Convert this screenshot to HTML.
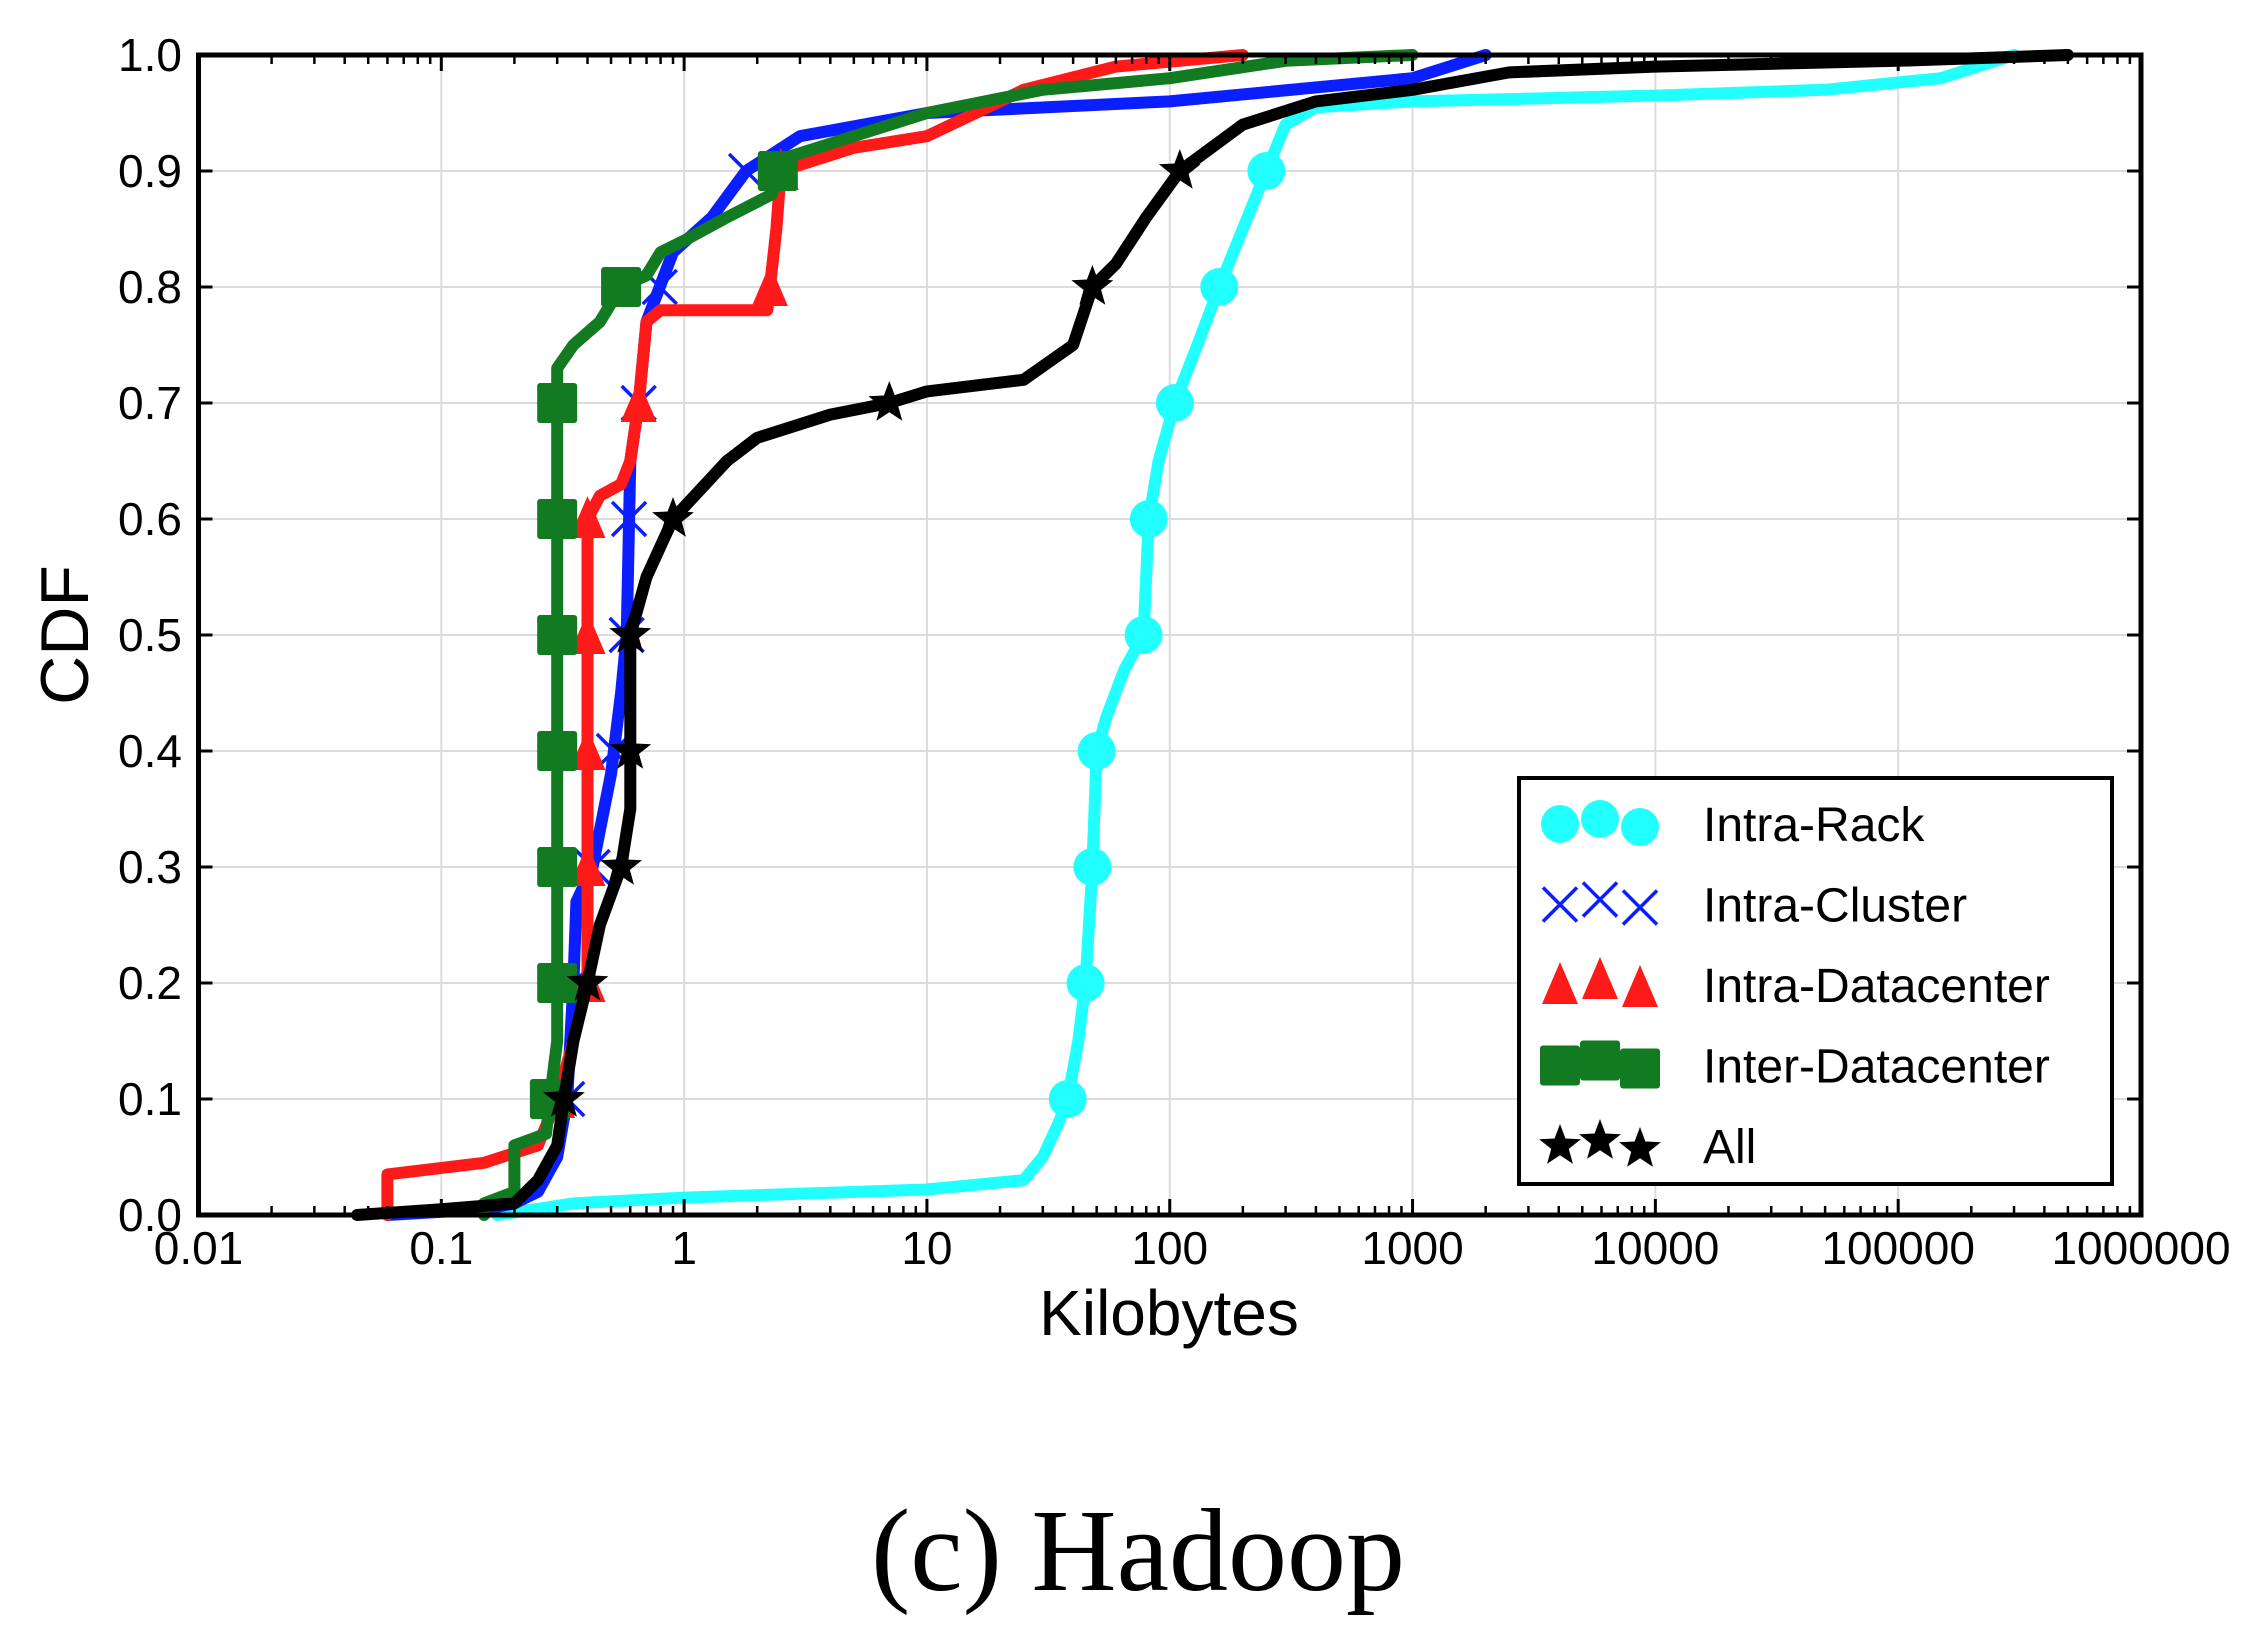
<!DOCTYPE html>
<html><head><meta charset="utf-8">
<style>
html,body{margin:0;padding:0;background:#fff;}
svg{display:block;}
text{font-family:"Liberation Sans","DejaVu Sans",sans-serif;}
</style></head>
<body>
<svg id="chart" width="2258" height="1630" viewBox="0 0 2258 1630" xmlns="http://www.w3.org/2000/svg">
<g id="grid"></g>
<g id="series"></g>
<g id="axes"></g>
<g id="legend"></g>
<text x="1169" y="1335" font-size="64" text-anchor="middle">Kilobytes</text>
<text x="0" y="0" font-size="68" text-anchor="middle" transform="translate(88,635) rotate(-90)">CDF</text>
<text x="1138" y="1590" font-size="118" text-anchor="middle" style="font-family:'Liberation Serif',serif">(c) Hadoop</text>
</svg>
<script>
const xTicks = [0.01,0.1,1,10,100,1000,10000,100000,1000000];
const xTickLabels = ["0.01","0.1","1","10","100","1000","10000","100000","1000000"];
const yTicks = [0,0.1,0.2,0.3,0.4,0.5,0.6,0.7,0.8,0.9,1.0];
const yTickLabels = ["0.0","0.1","0.2","0.3","0.4","0.5","0.6","0.7","0.8","0.9","1.0"];
const seriesNames = ["Intra-Rack","Intra-Cluster","Intra-Datacenter","Inter-Datacenter","All"];
const markerLevels = [0.1,0.2,0.3,0.4,0.5,0.6,0.7,0.8,0.9];

const rackX = [0.17,0.35,1,10,25,30,35,38,42,45,48,50,55,65,78,82,90,105,130,160,200,250,300,400,1000,10000,50000,150000,300000];
const rackY = [0,0.01,0.015,0.022,0.03,0.05,0.08,0.1,0.15,0.2,0.3,0.4,0.43,0.47,0.5,0.6,0.65,0.7,0.75,0.8,0.85,0.9,0.94,0.955,0.96,0.965,0.97,0.98,1.0];

const clusterX = [0.06,0.15,0.2,0.25,0.3,0.33,0.35,0.36,0.42,0.5,0.55,0.58,0.6,0.65,0.7,0.9,1.3,1.8,3,10,100,1000,2000];
const clusterY = [0,0.005,0.01,0.02,0.05,0.1,0.2,0.27,0.3,0.38,0.45,0.5,0.65,0.7,0.77,0.83,0.86,0.9,0.93,0.95,0.96,0.98,1.0];

const dcX = [0.06,0.06,0.15,0.25,0.3,0.35,0.4,0.4,0.4,0.45,0.55,0.6,0.65,0.7,0.8,2.2,2.4,2.5,5,10,20,25,60,200];
const dcY = [0,0.035,0.045,0.06,0.1,0.15,0.2,0.3,0.6,0.62,0.63,0.65,0.7,0.77,0.78,0.78,0.85,0.9,0.92,0.93,0.96,0.97,0.99,1.0];

const interX = [0.15,0.15,0.2,0.2,0.27,0.28,0.3,0.3,0.35,0.45,0.55,0.7,0.8,1.0,1.5,2.3,2.5,5,10,30,100,300,1000];
const interY = [0,0.01,0.02,0.06,0.07,0.1,0.15,0.73,0.75,0.77,0.8,0.81,0.83,0.84,0.86,0.88,0.91,0.93,0.95,0.97,0.98,0.995,1.0];

const allX = [0.045,0.1,0.2,0.25,0.3,0.32,0.35,0.4,0.45,0.55,0.6,0.6,0.7,0.9,1.5,2,4,7,10,25,40,48,60,80,110,200,400,1000,2500,10000,100000,500000];
const allY = [0,0.005,0.01,0.03,0.06,0.1,0.15,0.2,0.25,0.3,0.35,0.5,0.55,0.6,0.65,0.67,0.69,0.7,0.71,0.72,0.75,0.8,0.82,0.86,0.9,0.94,0.96,0.97,0.985,0.99,0.995,1.0];

const NS="http://www.w3.org/2000/svg";
const L=198.5,R=2141,T=55,B=1215;
function xs(v){return L+(Math.log10(v)+2)/8*(R-L);}
function ys(v){return B-v*(B-T);}
function mk(tag,attrs,parent){const e=document.createElementNS(NS,tag);for(const k in attrs)e.setAttribute(k,attrs[k]);parent.appendChild(e);return e;}
const grid=document.getElementById('grid'),axes=document.getElementById('axes'),ser=document.getElementById('series'),leg=document.getElementById('legend');

xTicks.forEach((t,i)=>{
  const g=mk('line',{x1:xs(t),x2:xs(t),y1:T,y2:B,stroke:'#dcdcdc','stroke-width':2},grid);
  
  
  const lb=mk('text',{x:xs(t),y:1264,'font-size':46,'text-anchor':'middle'},axes);
  lb.textContent=xTickLabels[i];
  
  
  [[B,B-16],[T,T+16]].forEach(p=>{mk('line',{x1:xs(t),x2:xs(t),y1:p[0],y2:p[1],stroke:'#000','stroke-width':3},axes);});
  if(i<xTicks.length-1){for(let m=2;m<10;m++){const xv=xs(t*m);
    mk('line',{x1:xv,x2:xv,y1:B,y2:B-9,stroke:'#000','stroke-width':2.5},axes);
    mk('line',{x1:xv,x2:xv,y1:T,y2:T+9,stroke:'#000','stroke-width':2.5},axes);}}
});
yTicks.forEach((t,i)=>{
  const g=mk('line',{x1:L,x2:R,y1:ys(t),y2:ys(t),stroke:'#dcdcdc','stroke-width':2},grid);
  
  
  const lb=mk('text',{x:182,y:ys(t)+16,'font-size':46,'text-anchor':'end'},axes);
  lb.textContent=yTickLabels[i];
  
  
  mk('line',{x1:L,x2:L+14,y1:ys(t),y2:ys(t),stroke:'#000','stroke-width':3},axes);
  mk('line',{x1:R,x2:R-14,y1:ys(t),y2:ys(t),stroke:'#000','stroke-width':3},axes);
});
const frame=mk('rect',{x:L,y:T,width:R-L,height:B-T,fill:'none',stroke:'#000','stroke-width':5},axes);



function star(cx,cy,r){let p=[];for(let k=0;k<10;k++){const a=-Math.PI/2+k*Math.PI/5;const rr=k%2?r*0.42:r;p.push((cx+rr*Math.cos(a)).toFixed(1)+','+(cy+rr*Math.sin(a)).toFixed(1));}return p.join(' ');}
function marker(type,cx,cy,color,parent){
  if(type==='circle')return mk('circle',{cx:cx,cy:cy,r:19,fill:color},parent);
  if(type==='x'){const g=mk('g',{stroke:color,'stroke-width':3.5},parent);mk('line',{x1:cx-17,y1:cy-17,x2:cx+17,y2:cy+17},g);mk('line',{x1:cx-17,y1:cy+17,x2:cx+17,y2:cy-17},g);return g;}
  if(type==='tri')return mk('polygon',{points:`${cx},${cy-23} ${cx-18},${cy+19} ${cx+18},${cy+19}`,fill:color},parent);
  if(type==='sq')return mk('rect',{x:cx-20,y:cy-20,width:40,height:40,rx:3,fill:color},parent);
  return mk('polygon',{points:star(cx,cy,22),fill:color},parent);
}
function invX(X,Y,yv){for(let i=1;i<Y.length;i++){if(Y[i]>=yv){const f=(yv-Y[i-1])/((Y[i]-Y[i-1])||1);return Math.pow(10,Math.log10(X[i-1])+f*(Math.log10(X[i])-Math.log10(X[i-1])));}}return X[X.length-1];}

const defs=[[rackX,rackY,'#22ffff','circle','intra-rack'],[clusterX,clusterY,'#0a1eff','x','intra-cluster'],[dcX,dcY,'#ff1a1a','tri','intra-datacenter'],[interX,interY,'#127a20','sq','inter-datacenter'],[allX,allY,'#000000','star','all']];
defs.forEach(d=>{
  const [X,Y,c,m,n]=d;
  const g=mk('g',{},ser);
  
  
  const pts=X.map((v,i)=>xs(v).toFixed(1)+','+ys(Y[i]).toFixed(1)).join(' ');
  const pl=mk('polyline',{points:pts,fill:'none',stroke:c,'stroke-width':12,'stroke-linejoin':'round','stroke-linecap':'round'},g);
  
  
  markerLevels.forEach(yv=>{const e=marker(m,xs(invX(X,Y,yv)),ys(yv),c,g);
    
    });
});

const lb=mk('rect',{x:1519,y:778,width:593,height:406,fill:'#fff',stroke:'#000','stroke-width':4},leg);


defs.forEach((d,i)=>{
  const cy=824+i*80.5;
  const g=mk('g',{},leg);
  
  
  [1560,1600,1640].forEach((cx,k)=>marker(d[3],cx,cy+(k===1?-5:(k===2?3:0)),d[2],g));
  const t=mk('text',{x:1703,y:cy+17,'font-size':48},g);
  t.textContent=seriesNames[i];
});
</script>
</body></html>
